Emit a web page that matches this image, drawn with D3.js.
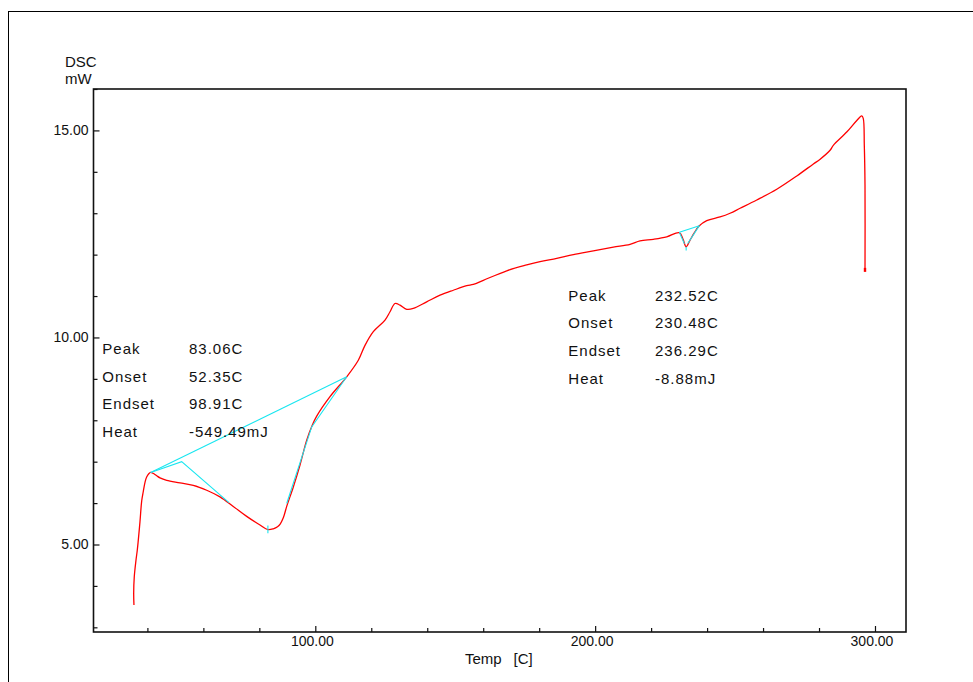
<!DOCTYPE html>
<html>
<head>
<meta charset="utf-8">
<script src="https://cdn.jsdelivr.net/npm/d3@7"></script>
<style>
  html, body { margin: 0; padding: 0; background: #fff; }
  svg { display: block; font-family: "Liberation Sans", Arial, sans-serif; }
</style>
</head>
<body>
<svg id="chart" width="973" height="682"></svg>
<script>
// ---------------- data ----------------
const tempC = [35.20, 35.10, 35.31, 35.92, 36.38, 36.74, 37.35, 37.96, 38.53, 39.20, 39.74, 40.50, 41.17, 42.0, 43.32, 44.5, 46.89, 51.64, 56.40, 61.19, 65.94, 70.69, 75.48, 80.24, 83.06, 84.99, 86.5, 87.5, 88.6, 89.78, 92.14, 94.53, 96.93, 98.91, 100.50, 105.25, 111.22, 115.37, 117.76, 120.73, 124.91, 126.70, 128.48, 130.27, 132.67, 135.02, 139.81, 144.57, 149.32, 154.11, 156.47, 160.04, 168.41, 175.55, 180.31, 186.28, 192.21, 199.36, 206.50, 212.47, 216.04, 220.80, 225.59, 230.09, 231.41, 232.52, 233.92, 235.35, 237.14, 239.88, 244.64, 248.2, 251.8, 257.75, 264.9, 272.05, 277.98, 280.3, 283.95, 285.1, 289.9, 293.5, 295.25, 295.8, 296.18, 296.43, 296.43];
const dscMW = [3.54, 3.82, 4.22, 4.62, 4.86, 5.10, 5.55, 6.05, 6.28, 6.52, 6.63, 6.71, 6.74, 6.72, 6.66, 6.61, 6.55, 6.49, 6.43, 6.31, 6.15, 5.92, 5.68, 5.47, 5.36, 5.38, 5.43, 5.50, 5.65, 5.92, 6.39, 6.92, 7.52, 7.88, 8.10, 8.57, 9.05, 9.45, 9.81, 10.14, 10.42, 10.62, 10.82, 10.78, 10.68, 10.70, 10.86, 11.02, 11.14, 11.25, 11.28, 11.38, 11.61, 11.75, 11.83, 11.91, 12.00, 12.09, 12.18, 12.25, 12.33, 12.37, 12.43, 12.53, 12.37, 12.19, 12.35, 12.52, 12.69, 12.82, 12.91, 13.00, 13.12, 13.32, 13.58, 13.90, 14.19, 14.30, 14.52, 14.64, 14.96, 15.24, 15.35, 15.29, 14.64, 13.68, 11.62];

// analysis construction lines (cyan): [temp, mW]
const peak1Baseline = [[41.17, 6.74], [111.22, 9.05]];
const peak1Onset    = [[41.17, 6.74], [52.25, 7.00], [69.16, 6.01]];
const peak1Endset   = [[89.78, 5.99], [98.71, 7.84], [111.22, 9.05]];
const peak1Mark     = [[83.06, 5.46], [83.06, 5.27]];
const peak2Baseline = [[230.09, 12.54], [237.24, 12.70]];
const peak2Onset    = [[230.09, 12.54], [231.9, 12.26]];
const peak2Endset   = [[233.1, 12.27], [237.24, 12.70]];
const peak2Mark     = [[232.52, 12.19], [232.52, 12.10]];

// annotation tables
const annotLabels = ["Peak", "Onset", "Endset", "Heat"];
const annot1Values = ["83.06C", "52.35C", "98.91C", "-549.49mJ"];
const annot2Values = ["232.52C", "230.48C", "236.29C", "-8.88mJ"];

// axis ticks
const xMajorTicks = [100, 200, 300];
const xMinorTicks = [40, 60, 80, 120, 140, 160, 180, 220, 240, 260, 280];
const yMajorTicks = [5, 10, 15];
const yMinorTicks = [3, 4, 6, 7, 8, 9, 11, 12, 13, 14, 16];
const xTickFormat = d => d.toFixed(2);
const yTickFormat = d => d.toFixed(2);

// ---------------- layout ----------------
const svg = d3.select("#chart");
const L = 93.5, R = 906, T = 89, B = 632;
const x = d3.scaleLinear().domain([20.74, 311.08]).range([L, R]);
const y = d3.scaleLinear().domain([2.887, 16.0]).range([B, T]);

// outer frame
svg.append("rect").attr("x", 8.5).attr("y", 11.5).attr("width", 1200).attr("height", 1200)
  .attr("fill", "none").attr("stroke", "#000").attr("stroke-width", 1);

// plot frame
svg.append("rect").attr("x", L).attr("y", T).attr("width", R - L).attr("height", B - T)
  .attr("fill", "none").attr("stroke", "#111").attr("stroke-width", 1.6);

// x axis ticks (inside)
const xAxisMajor = d3.axisBottom(x).tickValues(xMajorTicks).tickSize(-6).tickFormat(xTickFormat).tickPadding(8);
const gx = svg.append("g").attr("transform", `translate(0,${B})`).call(xAxisMajor);
gx.select(".domain").remove();
gx.selectAll("line").attr("stroke", "#111").attr("stroke-width", 1.2);
gx.selectAll("text").attr("font-size", 14).attr("fill", "#111")
  .attr("font-family", "Liberation Sans, Arial, sans-serif").attr("dx", -3.5).attr("dy", "0.45em");
const xAxisMinor = d3.axisBottom(x).tickValues(xMinorTicks).tickSize(-4).tickFormat("");
const gx2 = svg.append("g").attr("transform", `translate(0,${B})`).call(xAxisMinor);
gx2.select(".domain").remove();
gx2.selectAll("line").attr("stroke", "#111").attr("stroke-width", 1.2);

// y axis ticks (inside)
const yAxisMajor = d3.axisLeft(y).tickValues(yMajorTicks).tickSize(-6).tickFormat(yTickFormat).tickPadding(5);
const gy = svg.append("g").attr("transform", `translate(${L},0)`).call(yAxisMajor);
gy.select(".domain").remove();
gy.selectAll("line").attr("stroke", "#111").attr("stroke-width", 1.2);
gy.selectAll("text").attr("font-size", 14).attr("fill", "#111")
  .attr("font-family", "Liberation Sans, Arial, sans-serif");
const yAxisMinor = d3.axisLeft(y).tickValues(yMinorTicks).tickSize(-4).tickFormat("");
const gy2 = svg.append("g").attr("transform", `translate(${L},0)`).call(yAxisMinor);
gy2.select(".domain").remove();
gy2.selectAll("line").attr("stroke", "#111").attr("stroke-width", 1.2);

// axis titles
svg.append("text").attr("x", 65).attr("y", 66.5).attr("font-size", 15).attr("fill", "#111").text("DSC");
svg.append("text").attr("x", 65).attr("y", 83.5).attr("font-size", 15).attr("fill", "#111").text("mW");
svg.append("text").attr("x", 465).attr("y", 664).attr("font-size", 15).attr("fill", "#111").text("Temp");
svg.append("text").attr("x", 513.5).attr("y", 664).attr("font-size", 15).attr("fill", "#111").text("[C]");

// curve
const curveData = tempC.map((t, i) => [t, dscMW[i]]);
const line = d3.line().x(d => x(d[0])).y(d => y(d[1])).curve(d3.curveCatmullRom.alpha(0.5));
const lin = d3.line().x(d => x(d[0])).y(d => y(d[1]));

svg.append("path").datum(curveData).attr("d", line)
  .attr("fill", "none").attr("stroke", "#ff0000").attr("stroke-width", 1.3).attr("stroke-linejoin", "round");

// end marker
const last = curveData[curveData.length - 1];
svg.append("rect").attr("x", x(last[0]) - 1.2).attr("y", y(last[1]) - 2.5).attr("width", 2.4).attr("height", 4)
  .attr("fill", "#ff0000");

// cyan construction lines
[peak1Baseline, peak1Onset, peak1Endset, peak1Mark, peak2Baseline, peak2Onset, peak2Endset, peak2Mark]
  .forEach(seg => {
    svg.append("path").datum(seg).attr("d", lin)
      .attr("fill", "none").attr("stroke", "#19e6f0").attr("stroke-width", 1.1);
  });

// annotations
function annot(x0, xv, y0, values) {
  const g = svg.append("g").attr("font-size", 15).attr("fill", "#111").attr("letter-spacing", 1);
  annotLabels.forEach((lab, i) => {
    g.append("text").attr("x", x0).attr("y", y0 + i * 27.6).text(lab);
    g.append("text").attr("x", xv).attr("y", y0 + i * 27.6).text(values[i]);
  });
}
annot(102.3, 189, 354, annot1Values);
annot(568.3, 655, 300.7, annot2Values);
</script>
</body>
</html>
